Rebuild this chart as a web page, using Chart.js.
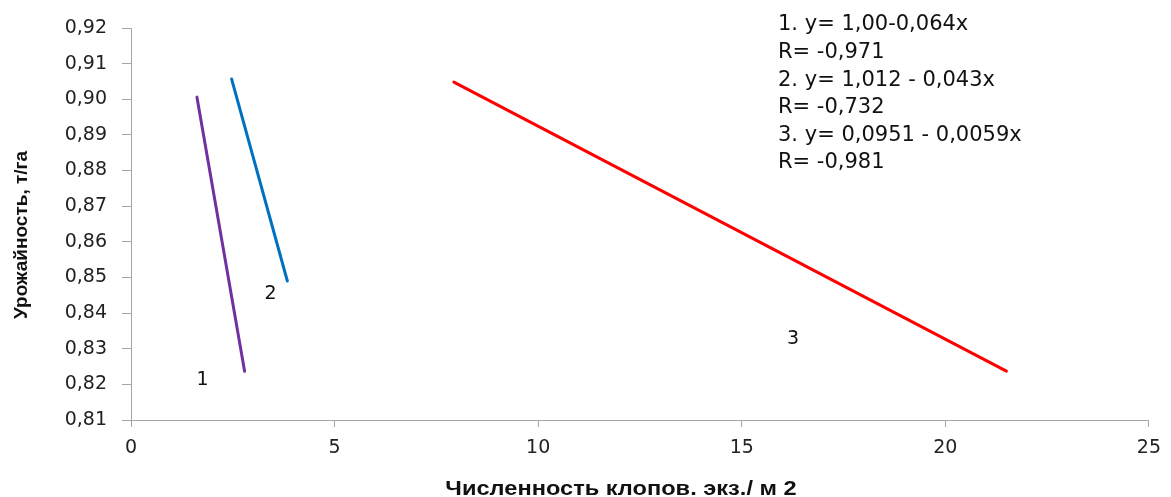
<!DOCTYPE html>
<html>
<head>
<meta charset="utf-8">
<script src="https://cdn.jsdelivr.net/npm/chart.js@4.4.1/dist/chart.umd.min.js"></script>
<style>
  html, body { margin: 0; padding: 0; background: #fff; }
  #wrap { width: 1171px; height: 497px; }
</style>
</head>
<body>
<div id="wrap"><canvas id="chart"></canvas></div>
<script>
// regression lines, start/end points (x = bugs per m2, y = yield t/ha)
const line1X = [1.62, 2.79];
const line1Y = [0.9006, 0.8237];
const line2X = [2.47, 3.84];
const line2Y = [0.9057, 0.849];
const line3X = [7.93, 21.5];
const line3Y = [0.9048, 0.8237];

const lineNames = ['1', '2', '3'];
const nameX = [1.76, 3.43, 16.26];
const nameY = [0.8212, 0.8454, 0.8327];

const equations = [
    '1. y= 1,00-0,064x',
    'R= -0,971',
    '2. y= 1,012 - 0,043x',
    'R= -0,732',
    '3. y= 0,0951 - 0,0059x',
    'R= -0,981'
];

const yTicks = [0.81, 0.82, 0.83, 0.84, 0.85, 0.86, 0.87, 0.88, 0.89, 0.90, 0.91, 0.92];
const xTicks = [0, 5, 10, 15, 20, 25];

const xTitle = 'Численность клопов. экз./ м 2';
const yTitle = 'Урожайность, т/га';

function pts(xs, ys) {
    return xs.map((x, i) => ({ x: x, y: ys[i] }));
}

const axisColor = '#a6a6a6';

// text labels next to lines, equation block, axis titles
const textPlugin = {
    id: 'texts',
    afterDatasetsDraw(chart) {
        const ctx = chart.ctx;
        const sx = chart.scales.x, sy = chart.scales.y;
        ctx.save();
        ctx.fillStyle = '#111';
        ctx.font = '19px "DejaVu Sans"';
        ctx.textAlign = 'center';
        ctx.textBaseline = 'middle';
        lineNames.forEach((n, i) => {
            ctx.fillText(n, sx.getPixelForValue(nameX[i]), sy.getPixelForValue(nameY[i]));
        });

        ctx.font = '21px "DejaVu Sans"';
        ctx.textAlign = 'left';
        equations.forEach((t, i) => {
            ctx.fillText(t, 778, 25 + i * 27.6);
        });

        // x title, a bit stretched like the original
        ctx.save();
        ctx.translate(621, 489);
        ctx.scale(1.18, 1);
        ctx.font = 'bold 20px "Liberation Sans"';
        ctx.textAlign = 'center';
        ctx.fillText(xTitle, 0, 0);
        ctx.restore();

        ctx.translate(22, 235);
        ctx.rotate(-Math.PI / 2);
        ctx.font = 'bold 19px "Liberation Sans"';
        ctx.textAlign = 'center';
        ctx.fillText(yTitle, 0, 0);
        ctx.restore();
    }
};

new Chart(document.getElementById('chart'), {
    type: 'scatter',
    data: {
        datasets: [
            { data: pts(line1X, line1Y), borderColor: '#7030a0' },
            { data: pts(line2X, line2Y), borderColor: '#0070c0' },
            { data: pts(line3X, line3Y), borderColor: '#ff0000' }
        ].map(d => Object.assign(d, { showLine: true, borderWidth: 3, pointRadius: 0, borderCapStyle: 'round' }))
    },
    options: {
        responsive: true,
        maintainAspectRatio: false,
        animation: false,
        layout: { padding: { top: 28, right: 19, left: 0, bottom: 0 } },
        plugins: { legend: { display: false }, tooltip: { enabled: false } },
        scales: {
            x: {
                type: 'linear',
                min: 0,
                max: 25,
                afterFit: s => { s.height = 77; },
                afterBuildTicks: s => { s.ticks = xTicks.map(v => ({ value: v })); },
                grid: { drawOnChartArea: false, drawTicks: true, tickLength: 7, color: axisColor },
                border: { color: axisColor, width: 1 },
                ticks: {
                    color: '#222',
                    padding: 10,
                    font: { family: '"DejaVu Sans"', size: 19 },
                    maxRotation: 0
                }
            },
            y: {
                min: 0.81,
                max: 0.92,
                afterFit: s => { s.width = 131; },
                afterBuildTicks: s => { s.ticks = yTicks.map(v => ({ value: v })); },
                grid: { drawOnChartArea: false, drawTicks: true, tickLength: 9, color: axisColor },
                border: { color: axisColor, width: 1 },
                ticks: {
                    color: '#222',
                    padding: 15,
                    font: { family: '"DejaVu Sans"', size: 19 },
                    callback: v => v.toFixed(2).replace('.', ',')
                }
            }
        }
    },
    plugins: [textPlugin]
});
</script>
</body>
</html>
